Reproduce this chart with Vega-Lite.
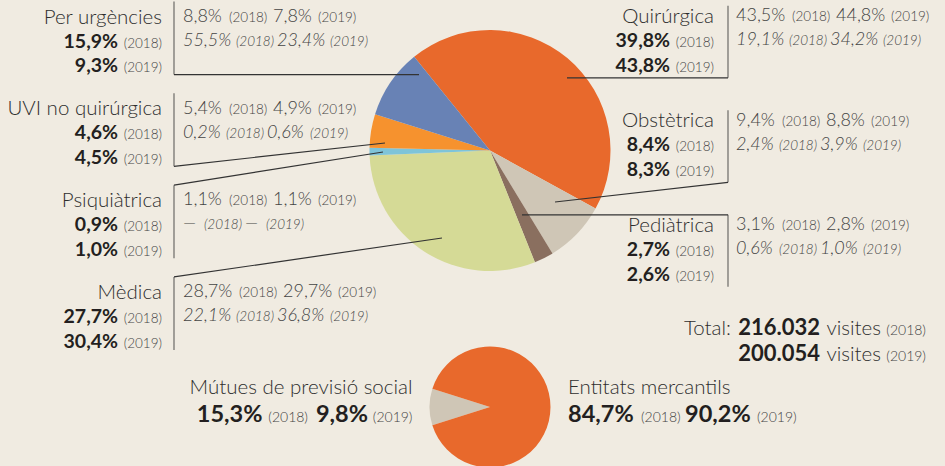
{
  "$schema": "https://vega.github.io/schema/vega-lite/v6.json",
  "width": 945,
  "height": 466,
  "autosize": {"type": "none"},
  "padding": 0,
  "background": "#F0EBE1",
  "config": {
    "view": {"stroke": null},
    "locale": {"number": {"decimal": ",", "thousands": ".", "grouping": [3], "currency": ["", " €"]}},
    "text": {"font": "Lato", "baseline": "alphabetic", "fontWeight": 300}
  },
  "datasets": {
    "big": [
      {"cat": "Quirúrgica", "ord": 1, "s18": 0.398, "s19": 0.438, "a18": 0.435, "a19": 0.448, "b18": 0.191, "b19": 0.342},
      {"cat": "Obstètrica", "ord": 2, "s18": 0.084, "s19": 0.083, "a18": 0.094, "a19": 0.088, "b18": 0.024, "b19": 0.039},
      {"cat": "Pediàtrica", "ord": 3, "s18": 0.027, "s19": 0.026, "a18": 0.031, "a19": 0.028, "b18": 0.006, "b19": 0.010},
      {"cat": "Mèdica", "ord": 4, "s18": 0.277, "s19": 0.304, "a18": 0.287, "a19": 0.297, "b18": 0.221, "b19": 0.368},
      {"cat": "Psiquiàtrica", "ord": 5, "s18": 0.009, "s19": 0.010, "a18": 0.011, "a19": 0.011, "b18": null, "b19": null},
      {"cat": "UVI no quirúrgica", "ord": 6, "s18": 0.046, "s19": 0.045, "a18": 0.054, "a19": 0.049, "b18": 0.002, "b19": 0.006},
      {"cat": "Per urgències", "ord": 7, "s18": 0.159, "s19": 0.093, "a18": 0.088, "a19": 0.078, "b18": 0.555, "b19": 0.234}
    ],
    "small": [
      {"cat": "Mútues de previsió social", "ord": 1, "s18": 0.153, "s19": 0.098},
      {"cat": "Entitats mercantils", "ord": 2, "s18": 0.847, "s19": 0.902}
    ],
    "totals": [
      {"year": 2018, "visits": 216032},
      {"year": 2019, "visits": 200054}
    ]
  },
  "resolve": {"scale": {"theta": "independent", "y": "independent"}},
  "layer": [
    {
      "data": {"name": "big"},
      "mark": {"type": "arc", "outerRadius": 120.5},
      "encoding": {
        "x": {"datum": 490, "type": "quantitative", "scale": {"domain": [0, 945], "nice": false, "zero": false}, "axis": null},
        "y": {"datum": 150.5, "type": "quantitative", "scale": {"domain": [0, 466], "nice": false, "zero": false, "reverse": true}, "axis": null},
        "theta": {"field": "s19", "type": "quantitative", "stack": true, "scale": {"range": [-0.6807, 5.6025]}},
        "order": {"field": "ord", "type": "quantitative"},
        "color": {"field": "cat", "type": "nominal", "legend": null,
          "scale": {"domain": ["Quirúrgica", "Obstètrica", "Pediàtrica", "Mèdica", "Psiquiàtrica", "UVI no quirúrgica", "Per urgències", "Mútues de previsió social", "Entitats mercantils"],
                    "range": ["#E8692C", "#CFC6B6", "#8A6F5F", "#D5DA96", "#7EC4D9", "#F6922E", "#6882B5", "#CFC6B6", "#E8692C"]}}
      }
    },
    {
      "data": {"name": "small"},
      "mark": {"type": "arc", "outerRadius": 60.5},
      "encoding": {
        "x": {"datum": 490, "type": "quantitative"},
        "y": {"datum": 407, "type": "quantitative", "scale": {"domain": [0, 466], "nice": false, "zero": false, "reverse": true}, "axis": null},
        "theta": {"field": "s19", "type": "quantitative", "stack": true, "scale": {"range": [4.4052, 10.6884]}},
        "order": {"field": "ord", "type": "quantitative"},
        "color": {"field": "cat", "type": "nominal", "legend": null}
      }
    },
    {
      "data": {"values": [{}]},
      "encoding": {"y": {"datum": 0, "type": "quantitative", "scale": {"domain": [0, 466], "nice": false, "zero": false, "reverse": true}, "axis": null}},
      "layer": [
        {"mark": {"type": "rule", "color": "#333333", "strokeWidth": 1.2},
          "encoding": {"x": {"datum": 174, "type": "quantitative"}, "y": {"datum": 74.6, "type": "quantitative"}, "x2": {"datum": 419}, "y2": {"datum": 74.6}}},
        {"mark": {"type": "rule", "color": "#333333", "strokeWidth": 1.2},
          "encoding": {"x": {"datum": 174, "type": "quantitative"}, "y": {"datum": 166.3, "type": "quantitative"}, "x2": {"datum": 385}, "y2": {"datum": 143}}},
        {"mark": {"type": "rule", "color": "#333333", "strokeWidth": 1.2},
          "encoding": {"x": {"datum": 174, "type": "quantitative"}, "y": {"datum": 185.1, "type": "quantitative"}, "x2": {"datum": 383}, "y2": {"datum": 152}}},
        {"mark": {"type": "rule", "color": "#333333", "strokeWidth": 1.2},
          "encoding": {"x": {"datum": 174, "type": "quantitative"}, "y": {"datum": 276.9, "type": "quantitative"}, "x2": {"datum": 442}, "y2": {"datum": 238}}},
        {"mark": {"type": "rule", "color": "#333333", "strokeWidth": 1.2},
          "encoding": {"x": {"datum": 728, "type": "quantitative"}, "y": {"datum": 77.8, "type": "quantitative"}, "x2": {"datum": 567}, "y2": {"datum": 77.8}}},
        {"mark": {"type": "rule", "color": "#333333", "strokeWidth": 1.2},
          "encoding": {"x": {"datum": 728, "type": "quantitative"}, "y": {"datum": 182.3, "type": "quantitative"}, "x2": {"datum": 555}, "y2": {"datum": 202}}},
        {"mark": {"type": "rule", "color": "#333333", "strokeWidth": 1.2},
          "encoding": {"x": {"datum": 728, "type": "quantitative"}, "y": {"datum": 214.8, "type": "quantitative"}, "x2": {"datum": 522}, "y2": {"datum": 214.8}}}
      ]
    },
    {
      "data": {"name": "small"},
      "encoding": {"y": {"datum": 0, "type": "quantitative", "scale": {"domain": [0, 466], "nice": false, "zero": false, "reverse": true}, "axis": null}},
      "layer": [
        {"transform": [{"filter": "datum.ord == 1"}],
          "mark": {"type": "text", "align": "right", "fontSize": 20.5, "color": "#2e2e2e"},
          "encoding": {"x": {"datum": 412.5, "type": "quantitative"}, "y": {"datum": 394, "type": "quantitative"}, "text": {"field": "cat"}}},
        {"transform": [{"filter": "datum.ord == 1"}],
          "mark": {"type": "text", "align": "right", "fontSize": 14, "color": "#444444"},
          "encoding": {"x": {"datum": 412.5, "type": "quantitative"}, "y": {"datum": 421.7, "type": "quantitative"}, "text": {"value": "(2019)"}}},
        {"transform": [{"filter": "datum.ord == 1"}],
          "mark": {"type": "text", "align": "right", "dx": -44.5, "fontSize": 23.5, "fontWeight": "bold", "color": "#231f20"},
          "encoding": {"x": {"datum": 412.5, "type": "quantitative"}, "y": {"datum": 421.7, "type": "quantitative"}, "text": {"field": "s19", "type": "quantitative", "format": ".1%"}}},
        {"transform": [{"filter": "datum.ord == 1"}],
          "mark": {"type": "text", "align": "right", "dx": -104.5, "fontSize": 14, "color": "#444444"},
          "encoding": {"x": {"datum": 412.5, "type": "quantitative"}, "y": {"datum": 421.7, "type": "quantitative"}, "text": {"value": "(2018)"}}},
        {"transform": [{"filter": "datum.ord == 1"}],
          "mark": {"type": "text", "align": "right", "dx": -150, "fontSize": 23.5, "fontWeight": "bold", "color": "#231f20"},
          "encoding": {"x": {"datum": 412.5, "type": "quantitative"}, "y": {"datum": 421.7, "type": "quantitative"}, "text": {"field": "s18", "type": "quantitative", "format": ".1%"}}},
        {"transform": [{"filter": "datum.ord == 2"}],
          "mark": {"type": "text", "align": "left", "fontSize": 20.5, "color": "#2e2e2e"},
          "encoding": {"x": {"datum": 568, "type": "quantitative"}, "y": {"datum": 394, "type": "quantitative"}, "text": {"field": "cat"}}},
        {"transform": [{"filter": "datum.ord == 2"}],
          "mark": {"type": "text", "align": "left", "fontSize": 23.5, "fontWeight": "bold", "color": "#231f20"},
          "encoding": {"x": {"datum": 568, "type": "quantitative"}, "y": {"datum": 421.7, "type": "quantitative"}, "text": {"field": "s18", "type": "quantitative", "format": ".1%"}}},
        {"transform": [{"filter": "datum.ord == 2"}],
          "mark": {"type": "text", "align": "left", "dx": 73, "fontSize": 14, "color": "#444444"},
          "encoding": {"x": {"datum": 568, "type": "quantitative"}, "y": {"datum": 421.7, "type": "quantitative"}, "text": {"value": "(2018)"}}},
        {"transform": [{"filter": "datum.ord == 2"}],
          "mark": {"type": "text", "align": "left", "dx": 117, "fontSize": 23.5, "fontWeight": "bold", "color": "#231f20"},
          "encoding": {"x": {"datum": 568, "type": "quantitative"}, "y": {"datum": 421.7, "type": "quantitative"}, "text": {"field": "s19", "type": "quantitative", "format": ".1%"}}},
        {"transform": [{"filter": "datum.ord == 2"}],
          "mark": {"type": "text", "align": "left", "dx": 189, "fontSize": 14, "color": "#444444"},
          "encoding": {"x": {"datum": 568, "type": "quantitative"}, "y": {"datum": 421.7, "type": "quantitative"}, "text": {"value": "(2019)"}}}
      ]
    },
    {
      "data": {"name": "big"},
      "transform": [{"filter": {"field": "cat", "oneOf": ["Per urgències", "UVI no quirúrgica", "Psiquiàtrica", "Mèdica"]}}],
      "encoding": {
        "x": {"datum": 174, "type": "quantitative"},
        "y": {"field": "cat", "type": "nominal", "axis": null, "scale": {"type": "point", "domain": ["Per urgències", "UVI no quirúrgica", "Psiquiàtrica", "Mèdica"], "range": [23.6, 298.9], "padding": 0}}
      },
      "layer": [
        {"mark": {"type": "tick", "orient": "vertical", "size": 73, "thickness": 1.2, "color": "#333333", "yOffset": 14.5}},
        {"mark": {"type": "text", "align": "right", "dx": -12, "fontSize": 20.5, "color": "#2e2e2e"}, "encoding": {"text": {"field": "cat"}}},
        {"mark": {"type": "text", "align": "right", "dx": -12, "dy": 24, "fontSize": 13.5, "color": "#444444"}, "encoding": {"text": {"value": "(2018)"}}},
        {"mark": {"type": "text", "align": "right", "dx": -56, "dy": 24, "fontSize": 19.5, "fontWeight": "bold", "color": "#231f20"}, "encoding": {"text": {"field": "s18", "type": "quantitative", "format": ".1%"}}},
        {"mark": {"type": "text", "align": "right", "dx": -12, "dy": 48.7, "fontSize": 13.5, "color": "#444444"}, "encoding": {"text": {"value": "(2019)"}}},
        {"mark": {"type": "text", "align": "right", "dx": -56, "dy": 48.7, "fontSize": 19.5, "fontWeight": "bold", "color": "#231f20"}, "encoding": {"text": {"field": "s19", "type": "quantitative", "format": ".1%"}}},
        {"mark": {"type": "text", "align": "left", "dx": 9, "dy": -1.7, "fontSize": 18, "color": "#444444"}, "encoding": {"text": {"field": "a18", "type": "quantitative", "format": ".1%"}}},
        {"mark": {"type": "text", "align": "left", "dx": {"expr": "9 + (datum.a18 >= 0.1 ? 51 : 41) + 5"}, "dy": -1.7, "fontSize": 13.5, "color": "#444444"}, "encoding": {"text": {"value": "(2018)"}}},
        {"mark": {"type": "text", "align": "left", "dx": {"expr": "9 + (datum.a18 >= 0.1 ? 51 : 41) + 5 + 40 + 4"}, "dy": -1.7, "fontSize": 18, "color": "#444444"}, "encoding": {"text": {"field": "a19", "type": "quantitative", "format": ".1%"}}},
        {"mark": {"type": "text", "align": "left", "dx": {"expr": "9 + (datum.a18 >= 0.1 ? 51 : 41) + 5 + 40 + 4 + (datum.a19 >= 0.1 ? 51 : 41) + 4"}, "dy": -1.7, "fontSize": 13.5, "color": "#444444"}, "encoding": {"text": {"value": "(2019)"}}},
        {"mark": {"type": "text", "align": "left", "dx": 9, "dy": 22.3, "fontSize": 18, "fontStyle": "italic", "color": "#444444"}, "encoding": {"text": {"condition": {"test": "datum.b18 === null", "value": "—"}, "field": "b18", "type": "quantitative", "format": ".1%"}}},
        {"mark": {"type": "text", "align": "left", "dx": {"expr": "9 + (datum.b18 === null ? 17 : datum.b18 >= 0.1 ? 49 : 39) + 4"}, "dy": 22.3, "fontSize": 13.5, "fontStyle": "italic", "color": "#444444"}, "encoding": {"text": {"value": "(2018)"}}},
        {"mark": {"type": "text", "align": "left", "dx": {"expr": "9 + (datum.b18 === null ? 17 : datum.b18 >= 0.1 ? 49 : 39) + 4 + 37 + 4"}, "dy": 22.3, "fontSize": 18, "fontStyle": "italic", "color": "#444444"}, "encoding": {"text": {"condition": {"test": "datum.b19 === null", "value": "—"}, "field": "b19", "type": "quantitative", "format": ".1%"}}},
        {"mark": {"type": "text", "align": "left", "dx": {"expr": "9 + (datum.b18 === null ? 17 : datum.b18 >= 0.1 ? 49 : 39) + 4 + 37 + 4 + (datum.b19 === null ? 17 : datum.b19 >= 0.1 ? 49 : 39) + 4"}, "dy": 22.3, "fontSize": 13.5, "fontStyle": "italic", "color": "#444444"}, "encoding": {"text": {"value": "(2019)"}}}
      ]
    },
    {
      "data": {"name": "big"},
      "transform": [{"filter": {"field": "cat", "oneOf": ["Quirúrgica", "Obstètrica", "Pediàtrica"]}}],
      "encoding": {
        "x": {"datum": 728, "type": "quantitative"},
        "y": {"field": "cat", "type": "nominal", "axis": null, "scale": {"type": "point", "domain": ["Quirúrgica", "Obstètrica", "Pediàtrica"], "range": [22.8, 231.8], "padding": 0}}
      },
      "layer": [
        {"mark": {"type": "tick", "orient": "vertical", "size": 72, "thickness": 1.2, "color": "#333333", "yOffset": 19}},
        {"mark": {"type": "text", "align": "right", "dx": -14, "fontSize": 20.5, "color": "#2e2e2e"}, "encoding": {"text": {"field": "cat"}}},
        {"mark": {"type": "text", "align": "right", "dx": -14, "dy": 24, "fontSize": 13.5, "color": "#444444"}, "encoding": {"text": {"value": "(2018)"}}},
        {"mark": {"type": "text", "align": "right", "dx": -58, "dy": 24, "fontSize": 19.5, "fontWeight": "bold", "color": "#231f20"}, "encoding": {"text": {"field": "s18", "type": "quantitative", "format": ".1%"}}},
        {"mark": {"type": "text", "align": "right", "dx": -14, "dy": 48.7, "fontSize": 13.5, "color": "#444444"}, "encoding": {"text": {"value": "(2019)"}}},
        {"mark": {"type": "text", "align": "right", "dx": -58, "dy": 48.7, "fontSize": 19.5, "fontWeight": "bold", "color": "#231f20"}, "encoding": {"text": {"field": "s19", "type": "quantitative", "format": ".1%"}}},
        {"mark": {"type": "text", "align": "left", "dx": 8, "dy": -1.7, "fontSize": 18, "color": "#444444"}, "encoding": {"text": {"field": "a18", "type": "quantitative", "format": ".1%"}}},
        {"mark": {"type": "text", "align": "left", "dx": {"expr": "8 + (datum.a18 >= 0.1 ? 51 : 41) + 5"}, "dy": -1.7, "fontSize": 13.5, "color": "#444444"}, "encoding": {"text": {"value": "(2018)"}}},
        {"mark": {"type": "text", "align": "left", "dx": {"expr": "8 + (datum.a18 >= 0.1 ? 51 : 41) + 5 + 40 + 4"}, "dy": -1.7, "fontSize": 18, "color": "#444444"}, "encoding": {"text": {"field": "a19", "type": "quantitative", "format": ".1%"}}},
        {"mark": {"type": "text", "align": "left", "dx": {"expr": "8 + (datum.a18 >= 0.1 ? 51 : 41) + 5 + 40 + 4 + (datum.a19 >= 0.1 ? 51 : 41) + 4"}, "dy": -1.7, "fontSize": 13.5, "color": "#444444"}, "encoding": {"text": {"value": "(2019)"}}},
        {"mark": {"type": "text", "align": "left", "dx": 8, "dy": 22.3, "fontSize": 18, "fontStyle": "italic", "color": "#444444"}, "encoding": {"text": {"field": "b18", "type": "quantitative", "format": ".1%"}}},
        {"mark": {"type": "text", "align": "left", "dx": {"expr": "8 + (datum.b18 >= 0.1 ? 49 : 39) + 4"}, "dy": 22.3, "fontSize": 13.5, "fontStyle": "italic", "color": "#444444"}, "encoding": {"text": {"value": "(2018)"}}},
        {"mark": {"type": "text", "align": "left", "dx": {"expr": "8 + (datum.b18 >= 0.1 ? 49 : 39) + 4 + 37 + 4"}, "dy": 22.3, "fontSize": 18, "fontStyle": "italic", "color": "#444444"}, "encoding": {"text": {"field": "b19", "type": "quantitative", "format": ".1%"}}},
        {"mark": {"type": "text", "align": "left", "dx": {"expr": "8 + (datum.b18 >= 0.1 ? 49 : 39) + 4 + 37 + 4 + (datum.b19 >= 0.1 ? 49 : 39) + 4"}, "dy": 22.3, "fontSize": 13.5, "fontStyle": "italic", "color": "#444444"}, "encoding": {"text": {"value": "(2019)"}}}
      ]
    },
    {
      "data": {"name": "totals"},
      "encoding": {
        "x": {"datum": 926, "type": "quantitative"},
        "y": {"field": "year", "type": "ordinal", "axis": null, "scale": {"type": "point", "domain": [2018, 2019], "range": [335, 360.5], "padding": 0}}
      },
      "layer": [
        {"mark": {"type": "text", "align": "right", "fontSize": 14, "color": "#444444"}, "encoding": {"text": {"condition": {"test": "datum.year == 2018", "value": "(2018)"}, "value": "(2019)"}}},
        {"mark": {"type": "text", "align": "right", "dx": -45, "fontSize": 20.5, "color": "#2e2e2e"}, "encoding": {"text": {"value": "visites"}}},
        {"mark": {"type": "text", "align": "right", "dx": -106, "fontSize": 22, "fontWeight": "bold", "color": "#231f20"}, "encoding": {"text": {"field": "visits", "type": "quantitative", "format": ",d"}}},
        {"transform": [{"filter": "datum.year == 2018"}], "mark": {"type": "text", "align": "right", "dx": -195, "fontSize": 20.5, "color": "#2e2e2e"}, "encoding": {"text": {"value": "Total:"}}}
      ]
    }
  ]
}
